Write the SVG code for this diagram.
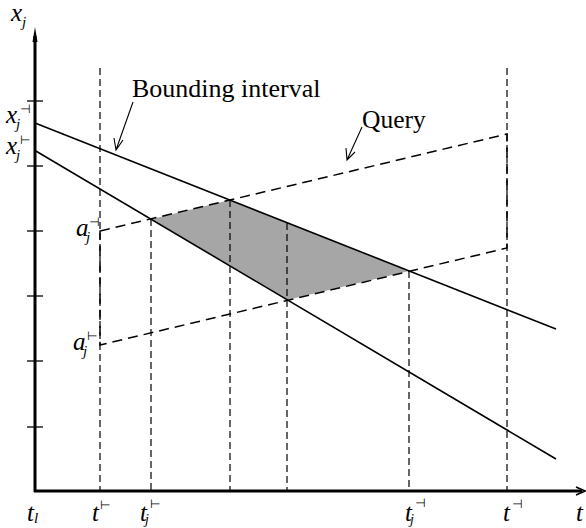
<svg xmlns="http://www.w3.org/2000/svg" width="586" height="528" viewBox="0 0 586 528">
<style>
.lbl{font-family:"Liberation Serif","Times New Roman",serif;fill:#000}
.it{font-family:"Liberation Serif","Times New Roman",serif;font-style:italic;fill:#000}
.sym{font-family:"DejaVu Sans",sans-serif;fill:#000}
.axis{stroke:#000;stroke-width:3;fill:none}
.tick{stroke:#000;stroke-width:1.3}
.vd{stroke:#000;stroke-width:1.2;stroke-dasharray:7 4;fill:none}
.qd{stroke:#000;stroke-width:1.5;stroke-dasharray:10 6;fill:none}
.bi{stroke:#000;stroke-width:1.6;fill:none}
.ptr{stroke:#000;stroke-width:1.1;fill:none}
</style>
<rect width="586" height="528" fill="#fff"/>
<g id="region">
<polygon points="152,219 230,200 409,271 287,300" fill="#a6a6a6"/>
</g>
<g id="connectors">
<line class="vd" x1="100" y1="68" x2="100" y2="491"/>
<line class="vd" x1="507" y1="68" x2="507" y2="491"/>
<line class="vd" x1="151" y1="219" x2="151" y2="491"/>
<line class="vd" x1="230" y1="200" x2="230" y2="491"/>
<line class="vd" x1="287" y1="223" x2="287" y2="491"/>
<line class="vd" x1="409" y1="271" x2="409" y2="491"/>
<path class="qd" d="M100,231 L507,134 L507,248 L100,345 Z"/>
<line class="bi" x1="35" y1="123" x2="556" y2="329"/>
<line class="bi" x1="35" y1="150.5" x2="556" y2="459"/>
<path class="ptr" d="M133,102 L116,150 M114,138 L116,150 L123,140"/>
<path class="ptr" d="M362,127 L347,160 M346,148 L347,160 L355,152"/>
</g>
<g id="axes">
<line class="axis" x1="35" y1="492" x2="35" y2="36"/>
<polygon points="35,27 32.5,42 37.5,42" fill="#000"/>
<line class="axis" x1="34" y1="491" x2="582" y2="491"/>
<path d="M576,487 L585,491 L576,495" stroke="#000" stroke-width="1.5" fill="none"/>
<line class="tick" x1="27" y1="101" x2="43" y2="101"/>
<line class="tick" x1="27" y1="166" x2="43" y2="166"/>
<line class="tick" x1="27" y1="231" x2="43" y2="231"/>
<line class="tick" x1="27" y1="296" x2="43" y2="296"/>
<line class="tick" x1="27" y1="361" x2="43" y2="361"/>
<line class="tick" x1="27" y1="427" x2="43" y2="427"/>
</g>
<g id="label-bounding">
<text class="lbl" x="132" y="97" font-size="26">Bounding interval</text>
</g>
<g id="label-query">
<text class="lbl" x="362" y="128" font-size="25.5">Query</text>
</g>
<g id="label-xj">
<text class="it" x="11" y="21" font-size="25">x</text>
<text class="it" x="22" y="27" font-size="15">j</text>
</g>
<g id="label-xj-end">
<text class="it" x="6" y="123" font-size="25">x</text>
<text class="it" x="16" y="129" font-size="15">j</text>
<text class="sym" x="20" y="113" font-size="12">⊣</text>
</g>
<g id="label-xj-start">
<text class="it" x="6" y="154" font-size="25">x</text>
<text class="it" x="16" y="160" font-size="15">j</text>
<text class="sym" x="20" y="144" font-size="12">⊢</text>
</g>
<g id="label-aj-end">
<text class="it" x="76" y="236" font-size="25">a</text>
<text class="it" x="86" y="242" font-size="15">j</text>
<text class="sym" x="89" y="226" font-size="12">⊣</text>
</g>
<g id="label-aj-start">
<text class="it" x="73" y="350" font-size="25">a</text>
<text class="it" x="83" y="356" font-size="15">j</text>
<text class="sym" x="87" y="340" font-size="12">⊢</text>
</g>
<g id="label-tl">
<text class="it" x="27" y="521" font-size="25">t</text>
<text class="it" x="34" y="523" font-size="15">l</text>
</g>
<g id="label-tstart">
<text class="it" x="92" y="521" font-size="25">t</text>
<text class="sym" x="100" y="509" font-size="12">⊢</text>
</g>
<g id="label-tj-start">
<text class="it" x="140" y="521" font-size="25">t</text>
<text class="it" x="145" y="524" font-size="14">j</text>
<text class="sym" x="150" y="508" font-size="12">⊢</text>
</g>
<g id="label-tj-end">
<text class="it" x="405" y="521" font-size="25">t</text>
<text class="it" x="410" y="524" font-size="14">j</text>
<text class="sym" x="415" y="507" font-size="12">⊣</text>
</g>
<g id="label-tend">
<text class="it" x="503" y="521" font-size="25">t</text>
<text class="sym" x="512" y="508" font-size="12">⊣</text>
</g>
<g id="label-t">
<text class="it" x="576" y="521" font-size="25">t</text>
</g>
</svg>
